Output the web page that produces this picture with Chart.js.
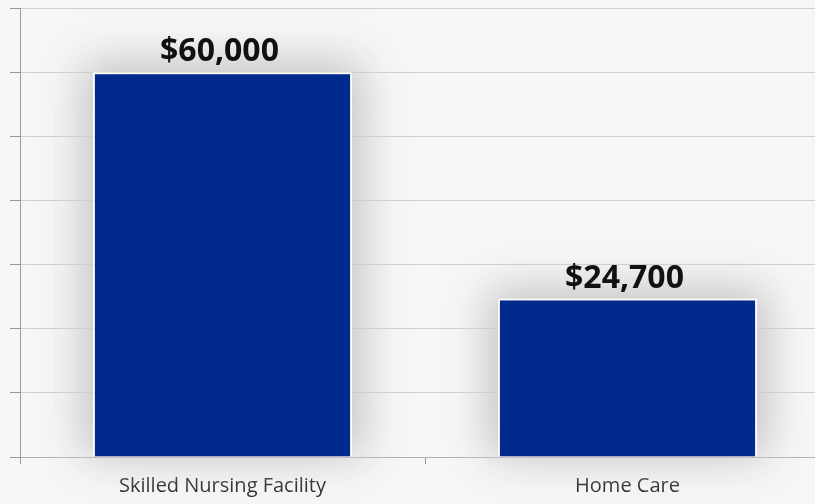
<!DOCTYPE html>
<html>
<head>
<meta charset="utf-8">
<script src="https://cdn.jsdelivr.net/npm/chart.js@4/dist/chart.umd.min.js"></script>
<style>
  html, body { margin: 0; padding: 0; background: #f7f7f7; overflow: hidden; }
  #wrap { position: relative; width: 830px; height: 504px; }
</style>
</head>
<body>
<div id="wrap"><canvas id="c"></canvas></div>
<script>
// Annual cost comparison
const categories = ["Skilled Nursing Facility", "Home Care"];
const costs = [60000, 24700];
const yMax = 70000;
const yStep = 10000;

// Soft grey halo painted behind each bar, over the grid lines
const barGlow = {
  id: 'barGlow',
  beforeDatasetsDraw(chart) {
    const ctx = chart.ctx;
    const meta = chart.getDatasetMeta(0);
    const shift = 3000;
    ctx.save();
    meta.data.forEach(bar => {
      const half = bar.width / 2;
      const left = bar.x - half - 10;
      const top = bar.y - 10;
      const w = bar.width + 20;
      const h = bar.base - top;
      ctx.shadowOffsetX = shift;
      ctx.fillStyle = '#000';
      // light wash first so grid lines fade out near the bar
      ctx.shadowColor = 'rgba(247,247,247,1)';
      ctx.shadowBlur = 46;
      ctx.fillRect(left - shift, top, w, h);
      ctx.shadowColor = 'rgba(150,150,150,0.55)';
      ctx.shadowBlur = 42;
      ctx.fillRect(left - shift, top, w, h);
    });
    ctx.restore();
  }
};

// Dollar value written above each bar
const valueLabels = {
  id: 'valueLabels',
  afterDatasetsDraw(chart) {
    const ctx = chart.ctx;
    const meta = chart.getDatasetMeta(0);
    ctx.save();
    ctx.font = 'bold 32px "Open Sans", sans-serif';
    ctx.fillStyle = '#111';
    ctx.textAlign = 'center';
    ctx.textBaseline = 'alphabetic';
    meta.data.forEach((bar, i) => {
      const v = chart.data.datasets[0].data[i];
      ctx.fillText('$' + v.toLocaleString('en-US'), bar.x - 3, bar.y - 11);
    });
    ctx.restore();
  }
};

new Chart(document.getElementById('c'), {
  type: 'bar',
  data: {
    labels: categories,
    datasets: [{
      data: costs,
      backgroundColor: '#002a8c',
      borderColor: '#ffffff',
      borderWidth: 2,
      borderSkipped: 'bottom',
      barPercentage: 0.64,
      categoryPercentage: 1.0
    }]
  },
  options: {
    responsive: true,
    maintainAspectRatio: false,
    animation: false,
    layout: { padding: { top: 8, left: 10, right: 0, bottom: 0 } },
    plugins: { legend: { display: false }, tooltip: { enabled: false } },
    scales: {
      x: {
        afterFit(scale) { scale.height = 47; },
        grid: { display: true, drawOnChartArea: false, color: '#9a9a9a', tickLength: 7 },
        border: { color: '#b0b0b0', width: 1 },
        ticks: { color: '#1a1a1a', font: { family: '"Open Sans", sans-serif', size: 20, weight: '500' }, padding: 10 }
      },
      y: {
        min: 0,
        max: yMax,
        grid: { color: '#cfcfcf', tickLength: 10, tickColor: '#9a9a9a' },
        border: { color: '#9a9a9a', width: 1 },
        ticks: { display: false, stepSize: yStep }
      }
    }
  },
  plugins: [barGlow, valueLabels]
});
</script>
</body>
</html>
